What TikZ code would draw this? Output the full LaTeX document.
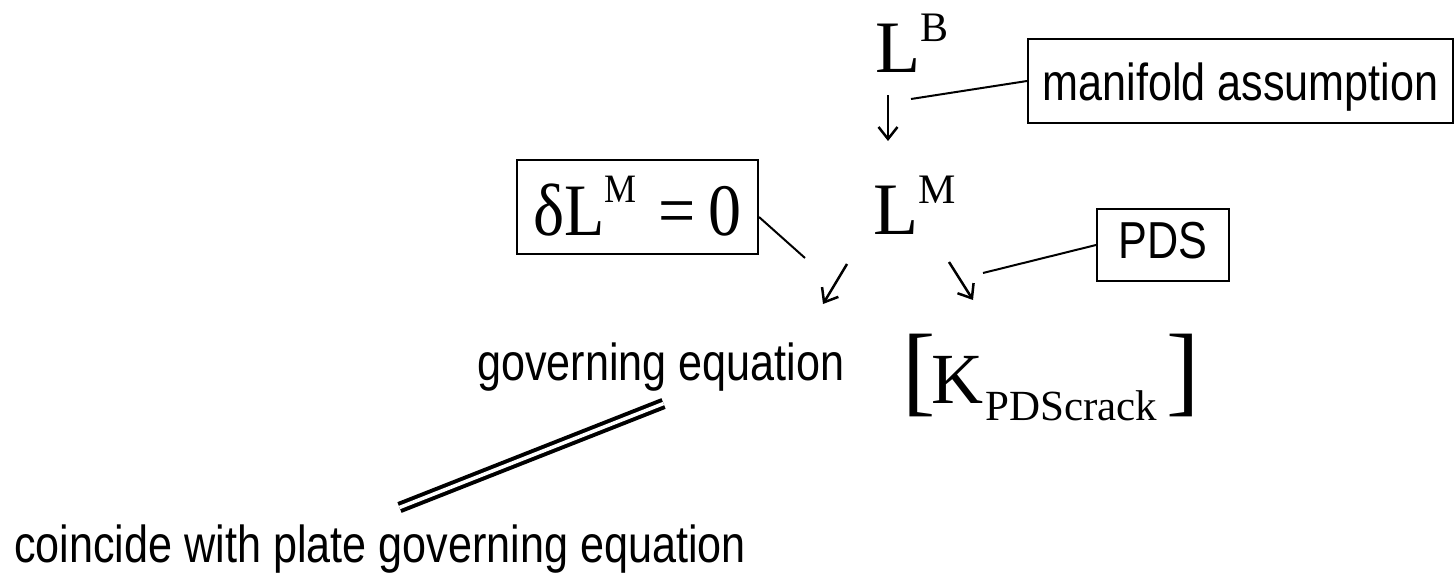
\documentclass[tikz,border=0pt]{standalone}
\usepackage{fontspec}
\setmainfont{Liberation Serif}
\newfontfamily\narrowsans[FakeStretch=0.83]{Liberation Sans}
\usetikzlibrary{arrows.meta}
\tikzset{
  sanslbl/.style={font=\narrowsans\fontsize{52pt}{52pt}\selectfont, inner sep=0pt},
  mathlbl/.style={inner sep=0pt},
  boxed/.style={draw, line width=2pt, inner xsep=0pt, inner ysep=0pt},
  conn/.style={line width=2pt},
  symarrow/.style={line width=2.5pt, -{Straight Barb[length=12pt,width=19pt,line width=2.5pt]}},
  dbl/.style={double, double distance=3.5pt, line width=4pt}
}
\newcommand{\fsz}[1]{\fontsize{#1pt}{#1pt}\selectfont}
\begin{document}
\begin{tikzpicture}[x=1pt,y=-1pt]
\useasboundingbox (0,0) rectangle (1455,578);
% top L^B
\node[mathlbl, anchor=base west] (LB) at (875,72)
  {{\fsz{74}L}\raisebox{31pt}{\fsz{42}B}};
% L^M
\node[mathlbl, anchor=base west] (LM) at (873,234)
  {{\fsz{74}L}\raisebox{31pt}{\fsz{42}M}};
% manifold assumption box
\node[boxed, sanslbl, anchor=base, text height=61pt, text depth=23pt,
      minimum width=425pt] (manifold) at (1240.5,100) {manifold assumption};
% delta L^M = 0 box
\node[boxed, anchor=base, text height=75pt, text depth=19pt,
      minimum width=241pt] (eq) at (637.5,235)
  {\scalebox{1}[1.12]{\fsz{66}δL\raisebox{29pt}{\fsz{36}M}\kern22pt=\kern13pt0}};
% PDS box
\node[boxed, sanslbl, anchor=base, text height=49pt, text depth=23pt,
      minimum width=132pt] (pds) at (1163,258) {PDS};
% governing equation
\node[sanslbl, anchor=base west] (gov) at (477,380) {governing equation};
% [K_PDScrack]
\node[mathlbl, anchor=base west] (K) at (902,403)
  {{\fsz{100}[}\kern-4pt{\fsz{72}K}\kern2pt\raisebox{-17pt}{\fsz{43}PDScrack}\kern9pt{\fsz{100}]}};
% coincide
\node[sanslbl, anchor=base west] (coin) at (14,562) {coincide with plate governing equation};

% arrows
\coordinate (a1s) at (888,95);  \coordinate (a1e) at (888,141);
\coordinate (a2s) at (847,264); \coordinate (a2e) at (823,304);
\coordinate (a3s) at (949,262); \coordinate (a3e) at (973,300);
\draw[symarrow] (a1s) -- (a1e);
\draw[symarrow] (a2s) -- (a2e);
\draw[symarrow] (a3s) -- (a3e);

% callout lines
\coordinate (mconn) at (911,99);
\draw[conn] (mconn) -- (manifold.west);
\coordinate (econn) at (805,258);
\draw[conn] ([yshift=-10pt]eq.east) -- (econn);
\coordinate (pconn) at (983,273);
\draw[conn] (pconn) -- (pds.west);

% double line
\coordinate (d1) at (663.5,403.5);
\coordinate (d2) at (399.5,507.5);
\draw[dbl] (d1) -- (d2);
\end{tikzpicture}
\end{document}
